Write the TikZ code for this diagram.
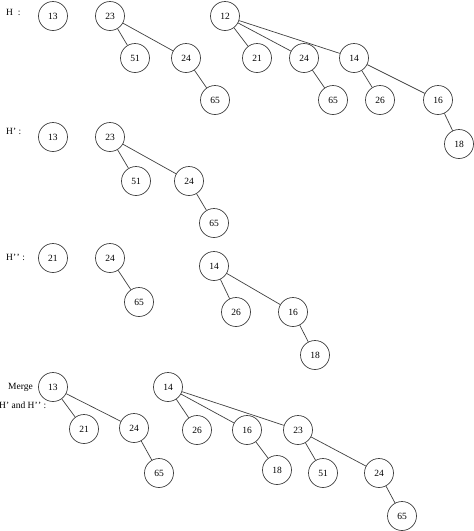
\documentclass[tikz,border=0pt]{standalone}
\usepackage{fontspec}
\setmainfont{Liberation Serif}
\begin{document}
\begin{tikzpicture}[x=1pt,y=-1pt,
  hn/.style={circle,draw=black!75,line width=0.7pt,minimum size=29pt,inner sep=0pt,font=\fontsize{9.5}{10}\selectfont},
  lab/.style={font=\fontsize{9.5}{10}\selectfont,inner sep=0pt},
  ed/.style={draw=black!75,line width=0.7pt}]
\useasboundingbox (0,0) rectangle (474,531);
% Row H
\node[lab,anchor=west] (lH) at (6,12) {H\ \ :};
\node[hn] (a13) at (53,16) {13};
\node[hn] (a23) at (110,16) {23};
\node[hn] (a51) at (135,58) {51};
\node[hn] (a24) at (186,58) {24};
\node[hn] (a65) at (215,100) {65};
\node[hn] (a12) at (225,16) {12};
\node[hn] (a21) at (257,58) {21};
\node[hn] (a24b) at (304,58) {24};
\node[hn] (a14) at (354,58) {14};
\node[hn] (a65b) at (333,100) {65};
\node[hn] (a26) at (380,100) {26};
\node[hn] (a16) at (438,100) {16};
\node[hn] (a18) at (459,144) {18};
\draw[ed] (a23)--(a51) (a23)--(a24) (a24)--(a65)
  (a12)--(a21) (a12)--(a24b) (a12)--(a14) (a24b)--(a65b)
  (a14)--(a26) (a14)--(a16) (a16)--(a18);
% Row H'
\node[lab,anchor=west] (lH1) at (6,131) {H'\ :};
\node[hn] (b13) at (53,137) {13};
\node[hn] (b23) at (110,137) {23};
\node[hn] (b51) at (136,181) {51};
\node[hn] (b24) at (189,181) {24};
\node[hn] (b65) at (214,223) {65};
\draw[ed] (b23)--(b51) (b23)--(b24) (b24)--(b65);
% Row H''
\node[lab,anchor=west] (lH2) at (6,257) {H'\kern0.5pt'\ :};
\node[hn] (c21) at (53,258) {21};
\node[hn] (c24) at (110,258) {24};
\node[hn] (c65) at (139,302) {65};
\node[hn] (c14) at (214,266) {14};
\node[hn] (c26) at (236,312) {26};
\node[hn] (c16) at (293,312) {16};
\node[hn] (c18) at (315,355) {18};
\draw[ed] (c24)--(c65) (c14)--(c26) (c14)--(c16) (c16)--(c18);
% Merge
\node[lab,anchor=east] (lM1) at (33,387) {Merge};
\node[lab,anchor=west] (lM2) at (-1,405) {H' and H'\kern0.5pt'\ :};
\node[hn] (d13) at (53,387) {13};
\node[hn] (d21) at (84,429) {21};
\node[hn] (d24) at (134,428) {24};
\node[hn] (d65) at (159,473) {65};
\node[hn] (d14) at (168,387) {14};
\node[hn] (d26) at (197,430) {26};
\node[hn] (d16) at (247,430) {16};
\node[hn] (d18) at (277,470) {18};
\node[hn] (d23) at (298,430) {23};
\node[hn] (d51) at (323,473) {51};
\node[hn] (d24b) at (379,473) {24};
\node[hn] (d65b) at (402,516) {65};
\draw[ed] (d13)--(d21) (d13)--(d24) (d24)--(d65)
  (d14)--(d26) (d14)--(d16) (d14)--(d23) (d16)--(d18)
  (d23)--(d51) (d23)--(d24b) (d24b)--(d65b);
\end{tikzpicture}
\end{document}
